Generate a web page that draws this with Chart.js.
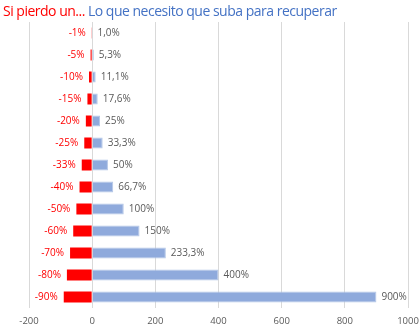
<!DOCTYPE html>
<html>
<head>
<meta charset="utf-8">
<script src="https://cdn.jsdelivr.net/npm/chart.js@4"></script>
<style>
  body { margin: 0; background: #fff; }
  #wrap { position: relative; width: 420px; height: 333px; }
  #title { position: absolute; left: 3px; top: 1px; font: 14px "Open Sans", sans-serif; white-space: nowrap; letter-spacing: -0.5px; }
  #title .loss { color: #FF0000; }
  #title .gain { color: #4472C4; }
</style>
</head>
<body>
<div id="wrap">
  <div id="title"><span class="loss">Si pierdo un...</span> <span class="gain">Lo que necesito que suba para recuperar</span></div>
  <canvas id="chart" width="420" height="333"></canvas>
</div>
<script>
var categories = ["1%", "5%", "10%", "15%", "20%", "25%", "33%", "40%", "50%", "60%", "70%", "80%", "90%"];
var losses = [-1, -5, -10, -15, -20, -25, -33, -40, -50, -60, -70, -80, -90];
var gains = [1.0, 5.3, 11.1, 17.6, 25, 33.3, 50, 66.7, 100, 150, 233.3, 400, 900];
var lossLabels = ["-1%", "-5%", "-10%", "-15%", "-20%", "-25%", "-33%", "-40%", "-50%", "-60%", "-70%", "-80%", "-90%"];
var gainLabels = ["1,0%", "5,3%", "11,1%", "17,6%", "25%", "33,3%", "50%", "66,7%", "100%", "150%", "233,3%", "400%", "900%"];
var xTicks = [-200, 0, 200, 400, 600, 800, 1000];

// draws the value labels next to each bar (no datalabels plugin available)
var barLabels = {
  id: 'barLabels',
  afterDatasetsDraw: function(chart) {
    var ctx = chart.ctx;
    ctx.save();
    ctx.font = '10px "Open Sans", sans-serif';
    ctx.textBaseline = 'middle';
    chart.getDatasetMeta(0).data.forEach(function(bar, i) {
      ctx.fillStyle = '#FF0000';
      ctx.textAlign = 'right';
      ctx.fillText(lossLabels[i], bar.x - 6, bar.y);
    });
    chart.getDatasetMeta(1).data.forEach(function(bar, i) {
      ctx.fillStyle = '#595959';
      ctx.textAlign = 'left';
      ctx.fillText(gainLabels[i], bar.x + 5, bar.y);
    });
    ctx.restore();
  }
};

var ctx = document.getElementById("chart");
var chart = new Chart(ctx, {
  type: 'bar',
  data: {
    labels: categories,
    datasets: [
      {
        label: 'Si pierdo un...',
        data: losses,
        backgroundColor: '#FF0000',
        borderWidth: 0
      },
      {
        label: 'Lo que necesito que suba para recuperar',
        data: gains,
        backgroundColor: '#8FAADC',
        borderColor: '#B4C7E7',
        borderWidth: 1
      }
    ]
  },
  options: {
    indexAxis: 'y',
    responsive: false,
    animation: false,
    barPercentage: 0.5,
    categoryPercentage: 1,
    layout: { padding: { top: 22, left: 29, right: 12, bottom: 0 } },
    plugins: {
      legend: { display: false },
      tooltip: { enabled: false }
    },
    scales: {
      x: {
        stacked: true,
        min: xTicks[0],
        max: xTicks[xTicks.length - 1],
        afterBuildTicks: function(scale) {
          scale.ticks = xTicks.map(function(v) { return { value: v }; });
        },
        afterFit: function(scale) {
          scale.paddingLeft = 0;
          scale.paddingRight = 0;
          scale.height = 25;
        },
        grid: { color: '#D9D9D9', drawTicks: false },
        border: { display: false },
        ticks: {
          color: '#595959',
          padding: 8,
          font: { size: 9.5, family: '"Open Sans", sans-serif' },
          callback: function(value) { return String(value); }
        }
      },
      y: {
        stacked: true,
        display: false
      }
    }
  },
  plugins: [barLabels]
});
</script>
</body>
</html>
